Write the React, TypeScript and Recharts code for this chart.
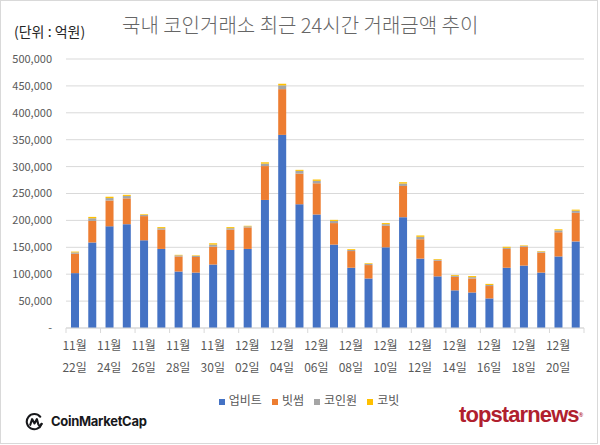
import React from 'react';
import { BarChart, Bar, XAxis, YAxis, CartesianGrid, Legend } from 'recharts';

const dates = [
  '11월 22일', '11월 23일', '11월 24일', '11월 25일', '11월 26일', '11월 27일', '11월 28일', '11월 29일',
  '11월 30일', '12월 01일', '12월 02일', '12월 03일', '12월 04일', '12월 05일', '12월 06일', '12월 07일',
  '12월 08일', '12월 09일', '12월 10일', '12월 11일', '12월 12일', '12월 13일', '12월 14일', '12월 15일',
  '12월 16일', '12월 17일', '12월 18일', '12월 19일', '12월 20일', '12월 21일',
];

// 단위: 억원
const upbit = [
  102000, 159000, 189000, 193000, 163000, 147000, 105000, 103000, 118000, 145000,
  147000, 238000, 359000, 230000, 211000, 155000, 112000, 92000, 150000, 206000,
  129000, 96000, 70000, 66000, 55000, 112000, 116000, 103000, 133000, 161000,
];
const bithumb = [
  36000, 40000, 48000, 48000, 45000, 36000, 28000, 29000, 33000, 38000,
  40000, 63000, 85000, 57000, 58000, 40000, 31000, 25000, 40000, 58000,
  36000, 29000, 25000, 26000, 23000, 35000, 35000, 37000, 45000, 53000,
];
const coinone = [
  2500, 5000, 4500, 4500, 2000, 2500, 2000, 2000, 4000, 2500,
  2000, 4500, 7000, 5000, 4500, 4000, 2000, 2000, 3000, 4500,
  4500, 2000, 2000, 2500, 2000, 2000, 1500, 2000, 3500, 4000,
];
const korbit = [
  1500, 2500, 2500, 2000, 1300, 2000, 1000, 1000, 2500, 2000,
  1000, 2500, 3000, 2000, 2500, 2000, 1500, 1300, 2000, 2500,
  2500, 1300, 1500, 2000, 2000, 2000, 1000, 1000, 2000, 2000,
];
const yTicks = [0, 50000, 100000, 150000, 200000, 250000, 300000, 350000, 400000, 450000, 500000];
const legendOrder = ['업비트', '빗썸', '코인원', '코빗'];

const data = dates.map((date, i) => ({
  date,
  upbit: upbit[i],
  bithumb: bithumb[i],
  coinone: coinone[i],
  korbit: korbit[i],
}));

const FONT = '"Noto Sans CJK KR", "Noto Sans", sans-serif';
const W = 600;
const H = 445;
const MARGIN = { top: 59, right: 16, left: 0, bottom: 0 };
const Y_WIDTH = 66;
const HALF_BAND = (W - MARGIN.left - MARGIN.right - Y_WIDTH) / dates.length / 2;
const GRID = '#d9d9d9';
const TEXT = '#595959';

const DateTick = (props: any) => {
  const { x, y, payload, index } = props;
  const [month, day] = String(payload.value).split(' ');
  const axisY = y - 5;
  return (
    <g>
      {index % 2 === 0 && (
        <line x1={x - HALF_BAND} x2={x - HALF_BAND} y1={axisY} y2={axisY + 5} stroke={GRID} />
      )}
      {index === dates.length - 1 && (
        <line x1={x + HALF_BAND} x2={x + HALF_BAND} y1={axisY} y2={axisY + 5} stroke={GRID} />
      )}
      {index % 2 === 0 && (
        <text x={x} y={y} textAnchor="middle" fill={TEXT} fontSize={12} fontFamily={FONT}>
          <tspan x={x} dy={17}>{month}</tspan>
          <tspan x={x} dy={22}>{day}</tspan>
        </text>
      )}
    </g>
  );
};

const fmt = (v: number) => (v === 0 ? '-' : v.toLocaleString('en-US'));

const CmcIcon = () => (
  <svg width={19} height={19} viewBox="0 0 20 20" style={{ position: 'absolute', left: 25, top: 412 }}>
    <path d="M17.5 12.5 A8 8 0 1 1 16 5" fill="none" stroke="#17181b" strokeWidth={2.2} strokeLinecap="round" />
    <path d="M5.5 13.5 L7.5 7.5 L10 12 L12.5 7.5 L14 13 Q15 15.5 17.5 12.5" fill="none" stroke="#17181b" strokeWidth={2.2} strokeLinejoin="round" strokeLinecap="round" />
  </svg>
);

export default function App() {
  return (
    <div
      style={{
        position: 'absolute',
        left: 0,
        top: 0,
        width: W,
        height: H,
        background: '#fff',
        fontFamily: FONT,
        overflow: 'hidden',
      }}
    >
      <div
        style={{
          position: 'absolute',
          left: 0,
          top: 0,
          width: 598,
          height: 444,
          border: `1px solid ${GRID}`,
          boxSizing: 'border-box',
        }}
      />
      <BarChart width={W} height={H} data={data} margin={MARGIN} barSize={8}>
        <CartesianGrid vertical={false} stroke={GRID} />
        <XAxis
          dataKey="date"
          interval={0}
          tick={<DateTick />}
          tickLine={false}
          tickSize={5}
          tickMargin={0}
          axisLine={{ stroke: GRID }}
          height={97}
        />
        <YAxis
          width={Y_WIDTH}
          domain={[0, 500000]}
          ticks={yTicks}
          tickFormatter={fmt}
          tickLine={false}
          axisLine={false}
          tickMargin={8}
          tick={{ fill: TEXT, fontSize: 11, fontFamily: FONT }}
        />
        <Legend
          verticalAlign="bottom"
          align="center"
          iconType="square"
          iconSize={6}
          itemSorter={(item: any) => legendOrder.indexOf(item.value)}
          wrapperStyle={{ top: 390, left: 30, width: 568, height: 20, fontSize: 12, lineHeight: '20px', fontFamily: FONT }}
          formatter={(v: string) => <span style={{ color: TEXT }}>{v}</span>}
        />
        <Bar dataKey="upbit" name="업비트" stackId="a" fill="#4472C4" isAnimationActive={false} />
        <Bar dataKey="bithumb" name="빗썸" stackId="a" fill="#ED7D31" isAnimationActive={false} />
        <Bar dataKey="coinone" name="코인원" stackId="a" fill="#A5A5A5" isAnimationActive={false} />
        <Bar dataKey="korbit" name="코빗" stackId="a" fill="#FFC000" isAnimationActive={false} />
      </BarChart>
      <div style={{ position: 'absolute', left: 14, top: 21, fontSize: 14, color: '#262626', lineHeight: '20px', whiteSpace: 'nowrap' }}>
        (단위 : 억원)
      </div>
      <div style={{ position: 'absolute', left: 122, top: 11, fontSize: 20, color: '#666', lineHeight: '28px', whiteSpace: 'nowrap', fontWeight: 300 }}>
        국내 코인거래소 최근 24시간 거래금액 추이
      </div>
      <CmcIcon />
      <div
        style={{
          position: 'absolute',
          left: 51,
          top: 411,
          fontSize: 13,
          fontWeight: 700,
          color: '#17181b',
          fontFamily: 'Inter, "Noto Sans", sans-serif',
          lineHeight: '20px',
          letterSpacing: -0.3,
          whiteSpace: 'nowrap',
        }}
      >
        CoinMarketCap
      </div>
      <div
        style={{
          position: 'absolute',
          left: 459,
          top: 401,
          fontSize: 22,
          fontWeight: 700,
          color: '#b0202e',
          fontFamily: '"Liberation Sans", Arial, sans-serif',
          lineHeight: '28px',
          letterSpacing: -0.9,
          whiteSpace: 'nowrap',
        }}
      >
        topstarnews<span style={{ fontSize: 6, verticalAlign: 'top', letterSpacing: 0 }}>®</span>
      </div>
    </div>
  );
}
